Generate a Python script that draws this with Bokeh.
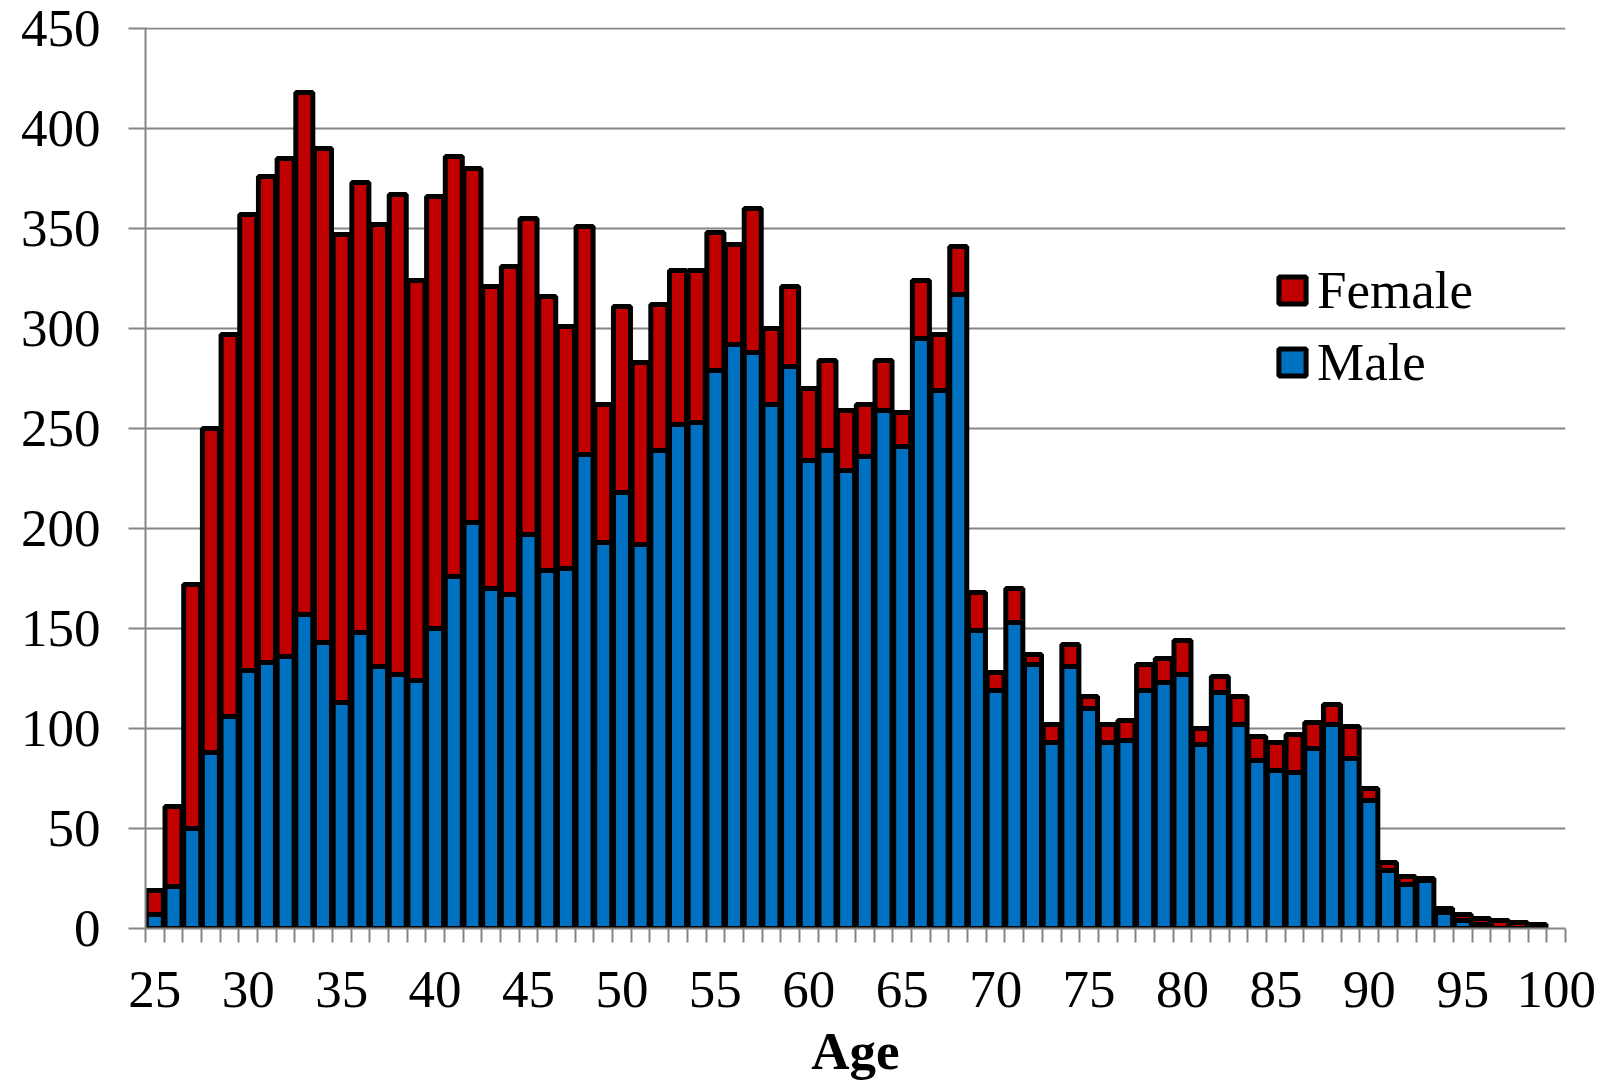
from bokeh.plotting import figure
from bokeh.models import (ColumnDataSource, Range1d, FixedTicker, SingleIntervalTicker,
                          Legend, LegendItem)
from bokeh.embed import file_html
from bokeh.resources import INLINE

# ---- data ----
ages = list(range(25, 100))
male = [7, 21, 50, 88, 106, 129, 133, 136, 157, 143,
        113, 148, 131, 127, 124, 150, 176, 203, 170, 167,
        197, 179, 180, 237, 193, 218, 192, 239, 252, 253,
        279, 292, 288, 262, 281, 234, 239, 229, 236, 259,
        241, 295, 269, 317, 149, 119, 153, 132, 93, 131,
        110, 93, 94, 119, 123, 127, 92, 118, 102, 84,
        79, 78, 90, 102, 85, 64, 29, 22, 24, 8,
        4, 2, 0, 0, 0]
female = [12, 40, 122, 162, 191, 228, 243, 249, 261, 247,
          234, 225, 221, 240, 200, 216, 210, 177, 151, 164,
          158, 137, 121, 114, 69, 93, 91, 73, 77, 76,
          69, 50, 72, 38, 40, 36, 45, 30, 26, 25,
          17, 29, 28, 24, 19, 9, 17, 5, 9, 11,
          6, 9, 10, 13, 12, 17, 8, 8, 14, 12,
          14, 19, 13, 10, 16, 6, 4, 4, 1, 2,
          3, 3, 4, 3, 2]
x_tick_labels = list(range(25, 101, 5))
x_title = "Age"
y_max = 450
y_step = 50

total = [m + f for m, f in zip(male, female)]
src = ColumnDataSource(dict(age=ages, male=male, female=female, total=total))

FONT = "Liberation Serif"
GRID = "#868686"
RED = "#C00000"
BLUE = "#0070C0"

x_lo, x_hi = ages[0] - 0.5, x_tick_labels[-1] + 0.5
p = figure(width=1598, height=1082, output_backend="svg", toolbar_location=None,
           x_range=Range1d(x_lo, x_hi), y_range=Range1d(0, y_max + 0.5))
p.min_border_left = 145
p.min_border_right = 33
p.min_border_top = 27
p.min_border_bottom = 154
p.outline_line_color = None
p.background_fill_color = "white"

rm = p.vbar(x="age", bottom=0, top="male", width=0.91, source=src,
            fill_color=BLUE, line_color="black", line_width=5)
rf = p.vbar(x="age", bottom="male", top="total", width=0.91, source=src,
            fill_color=RED, line_color="black", line_width=5)

# x axis
xa = p.xaxis[0]
xa.ticker = FixedTicker(ticks=x_tick_labels,
                        minor_ticks=[a - 0.5 for a in range(ages[0], x_tick_labels[-1] + 2)])
xa.major_tick_out = 0
xa.major_tick_in = 0
xa.minor_tick_out = 14
xa.minor_tick_in = 0
xa.minor_tick_line_color = GRID
xa.minor_tick_line_width = 2
xa.axis_line_color = GRID
xa.axis_line_width = 2
xa.major_label_standoff = 29
xa.major_label_text_font = FONT
xa.major_label_text_font_size = "53px"
xa.major_label_text_color = "black"
xa.axis_label = x_title
xa.axis_label_text_font = FONT
xa.axis_label_text_font_style = "bold"
xa.axis_label_text_font_size = "53px"
xa.axis_label_text_color = "black"
xa.axis_label_standoff = 12

# y axis
ya = p.yaxis[0]
ya.ticker = SingleIntervalTicker(interval=y_step, num_minor_ticks=0)
ya.major_tick_out = 17
ya.major_tick_in = 0
ya.minor_tick_out = 0
ya.minor_tick_in = 0
ya.major_tick_line_color = GRID
ya.major_tick_line_width = 2
ya.axis_line_color = GRID
ya.axis_line_width = 2
ya.major_label_standoff = 28
ya.major_label_text_font = FONT
ya.major_label_text_font_size = "53px"
ya.major_label_text_color = "black"

p.xgrid.visible = False
p.ygrid.grid_line_color = GRID
p.ygrid.grid_line_width = 2

legend = Legend(items=[LegendItem(label="Female", renderers=[rf]),
                       LegendItem(label="Male", renderers=[rm])],
                location=(1130, 536), orientation="vertical",
                glyph_width=34, glyph_height=34, label_standoff=8,
                spacing=12, padding=0, margin=0,
                label_text_font=FONT, label_text_font_size="53px",
                label_text_color="black",
                border_line_color=None, background_fill_alpha=0)
p.add_layout(legend)

open("out.html", "w").write(file_html(p, INLINE))
